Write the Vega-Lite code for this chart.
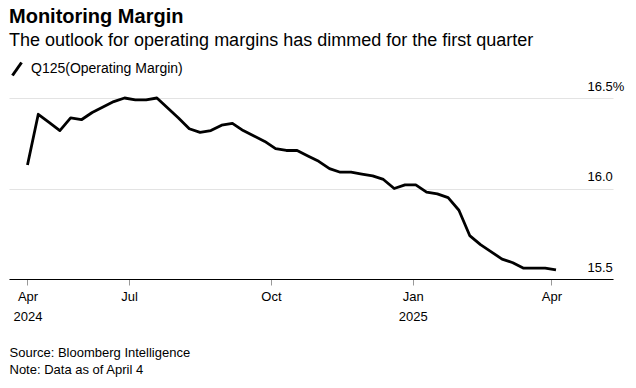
{
  "$schema": "https://vega.github.io/schema/vega-lite/v6.json",
  "width": 604,
  "height": 181,
  "autosize": {"type": "none"},
  "padding": {"left": 9, "top": 98, "right": 23, "bottom": 109},
  "background": "white",
  "title": {
    "text": "Monitoring Margin",
    "subtitle": "The outlook for operating margins has dimmed for the first quarter",
    "anchor": "start",
    "frame": "group",
    "font": "Liberation Sans",
    "fontSize": 20,
    "fontWeight": "bold",
    "color": "#000000",
    "subtitleFont": "Liberation Sans",
    "subtitleFontSize": 18,
    "subtitleColor": "#000000",
    "subtitlePadding": 5,
    "offset": 11
  },
  "data": {
    "values": [
      {"date": "2024-04-26", "value": 16.13},
      {"date": "2024-05-03", "value": 16.41},
      {"date": "2024-05-10", "value": 16.365},
      {"date": "2024-05-17", "value": 16.32},
      {"date": "2024-05-24", "value": 16.39},
      {"date": "2024-05-31", "value": 16.38},
      {"date": "2024-06-07", "value": 16.42},
      {"date": "2024-06-14", "value": 16.45},
      {"date": "2024-06-21", "value": 16.48},
      {"date": "2024-06-28", "value": 16.5},
      {"date": "2024-07-05", "value": 16.49},
      {"date": "2024-07-12", "value": 16.49},
      {"date": "2024-07-19", "value": 16.5},
      {"date": "2024-07-26", "value": 16.445},
      {"date": "2024-08-02", "value": 16.39},
      {"date": "2024-08-09", "value": 16.33},
      {"date": "2024-08-16", "value": 16.31},
      {"date": "2024-08-23", "value": 16.32},
      {"date": "2024-08-30", "value": 16.35},
      {"date": "2024-09-06", "value": 16.36},
      {"date": "2024-09-13", "value": 16.32},
      {"date": "2024-09-20", "value": 16.29},
      {"date": "2024-09-27", "value": 16.26},
      {"date": "2024-10-04", "value": 16.22},
      {"date": "2024-10-11", "value": 16.21},
      {"date": "2024-10-18", "value": 16.21},
      {"date": "2024-10-25", "value": 16.18},
      {"date": "2024-11-01", "value": 16.15},
      {"date": "2024-11-08", "value": 16.11},
      {"date": "2024-11-15", "value": 16.09},
      {"date": "2024-11-22", "value": 16.09},
      {"date": "2024-11-29", "value": 16.08},
      {"date": "2024-12-06", "value": 16.07},
      {"date": "2024-12-13", "value": 16.05},
      {"date": "2024-12-20", "value": 16.0},
      {"date": "2024-12-27", "value": 16.02},
      {"date": "2025-01-03", "value": 16.02},
      {"date": "2025-01-10", "value": 15.98},
      {"date": "2025-01-17", "value": 15.97},
      {"date": "2025-01-24", "value": 15.95},
      {"date": "2025-01-31", "value": 15.88},
      {"date": "2025-02-07", "value": 15.74},
      {"date": "2025-02-14", "value": 15.69},
      {"date": "2025-02-21", "value": 15.65},
      {"date": "2025-02-28", "value": 15.61},
      {"date": "2025-03-07", "value": 15.59},
      {"date": "2025-03-14", "value": 15.56},
      {"date": "2025-03-21", "value": 15.56},
      {"date": "2025-03-28", "value": 15.56},
      {"date": "2025-04-04", "value": 15.55}
    ]
  },
  "mark": {"type": "line", "strokeWidth": 2.8, "strokeJoin": "round", "strokeCap": "butt"},
  "encoding": {
    "x": {
      "field": "date",
      "type": "temporal",
      "scale": {
        "type": "utc",
        "domain": [
          {"year": 2024, "month": 4, "date": 14, "utc": true},
          {"year": 2025, "month": 5, "date": 11, "utc": true}
        ]
      },
      "axis": {
        "values": [
          {"year": 2024, "month": 4, "date": 26, "utc": true},
          {"year": 2024, "month": 7, "date": 1, "utc": true},
          {"year": 2024, "month": 10, "date": 1, "utc": true},
          {"year": 2025, "month": 1, "date": 1, "utc": true},
          {"year": 2025, "month": 4, "date": 1, "utc": true}
        ],
        "labelExpr": "(utcyear(datum.value) == 2024 && utcmonth(datum.value) == 3) ? ['Apr', '2024'] : (utcmonth(datum.value) == 0 ? ['Jan', utcFormat(datum.value, '%Y')] : utcFormat(datum.value, '%b'))",
        "grid": false,
        "domainColor": "#000000",
        "domainWidth": 1,
        "tickColor": "#999999",
        "tickSize": 6,
        "tickWidth": 1,
        "labelFont": "Liberation Sans",
        "labelFontSize": 13,
        "labelColor": "#000000",
        "labelPadding": 5,
        "labelLineHeight": 20,
        "labelFlush": false,
        "labelOverlap": false,
        "title": ["Source: Bloomberg Intelligence", "Note: Data as of April 4"],
        "titleFont": "Liberation Sans",
        "titleFontSize": 13,
        "titleFontWeight": "normal",
        "titleColor": "#000000",
        "titleAnchor": "start",
        "titleAlign": "left",
        "titleBaseline": "top",
        "titleX": 0,
        "titleY": 67,
        "titleLineHeight": 17
      }
    },
    "y": {
      "field": "value",
      "type": "quantitative",
      "scale": {"domain": [15.5, 16.5], "nice": false, "zero": false},
      "axis": {
        "orient": "right",
        "title": null,
        "values": [15.5, 16.0, 16.5],
        "domain": false,
        "ticks": false,
        "tickSize": 0,
        "grid": true,
        "gridColor": "#e3e3e3",
        "gridWidth": 1,
        "labelAlign": "left",
        "labelBaseline": "alphabetic",
        "labelPadding": -26,
        "labelOffset": -8,
        "labelFont": "Liberation Sans",
        "labelFontSize": 13,
        "labelColor": "#000000",
        "labelExpr": "datum.value == 16.5 ? '16.5%' : format(datum.value, '.1f')"
      }
    },
    "color": {
      "datum": "Q125(Operating Margin)",
      "type": "nominal",
      "scale": {"range": ["#000000"]},
      "legend": {
        "orient": "none",
        "legendX": 0,
        "legendY": -37,
        "title": null,
        "padding": 0,
        "symbolType": "M-0.7,1L0.7,-1",
        "symbolSize": 169,
        "symbolStrokeWidth": 3,
        "symbolStrokeColor": "#000000",
        "labelFont": "Liberation Sans",
        "labelFontSize": 14,
        "labelColor": "#000000",
        "labelOffset": 6
      }
    }
  },
  "config": {
    "view": {"stroke": null},
    "font": "Liberation Sans"
  }
}
